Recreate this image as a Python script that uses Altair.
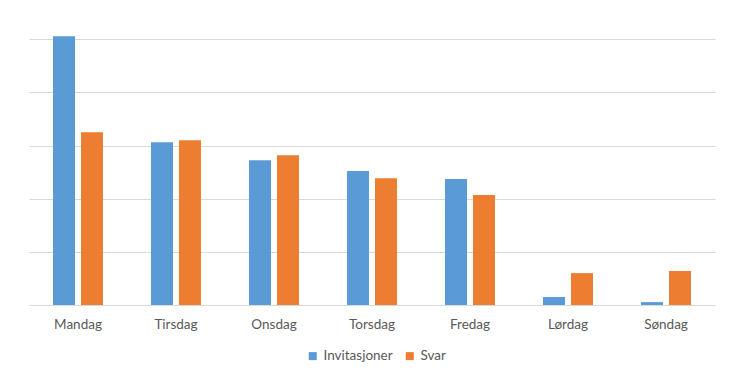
import altair as alt
import pandas as pd

days = ["Mandag", "Tirsdag", "Onsdag", "Torsdag", "Fredag", "Lørdag", "Søndag"]
invitasjoner = [101.2, 61.3, 54.5, 50.4, 47.4, 3.0, 1.1]
svar = [65.0, 62.0, 56.4, 47.7, 41.4, 12.0, 12.8]
series = ["Invitasjoner", "Svar"]
colors = ["#5B9BD5", "#ED7D31"]

rows = []
for d, a, b in zip(days, invitasjoner, svar):
    rows.append({"dag": d, "serie": series[0], "verdi": a})
    rows.append({"dag": d, "serie": series[1], "verdi": b})
df = pd.DataFrame(rows)

FONT = "Lato"

chart = alt.Chart(df).mark_bar().encode(
    x=alt.X("dag:N", sort=days, title=None,
            scale=alt.Scale(paddingInner=0.49, paddingOuter=0.245),
            axis=alt.Axis(labelAngle=0, domain=False, ticks=False, labelPadding=12,
                          labelFontSize=13.5, labelColor="#595959", labelFont=FONT)),
    xOffset=alt.XOffset("serie:N", sort=series,
                        scale=alt.Scale(paddingInner=0.214, paddingOuter=0)),
    y=alt.Y("verdi:Q", title=None,
            scale=alt.Scale(domain=[0, 102], nice=False),
            axis=alt.Axis(values=[0, 20, 40, 60, 80, 100], labels=False, ticks=False,
                          domain=False, gridColor="#D9D9D9", gridWidth=1)),
    color=alt.Color("serie:N", sort=series, title=None,
                    scale=alt.Scale(domain=series, range=colors),
                    legend=alt.Legend(orient="none", direction="horizontal",
                                      legendX=277, legendY=315,
                                      symbolType="square", symbolSize=64,
                                      symbolStrokeWidth=0,
                                      labelFontSize=13.5, labelColor="#595959",
                                      labelFont=FONT, labelOffset=4,
                                      columnPadding=10)),
).properties(
    width=686, height=271, background="white",
    padding={"left": 21, "top": 26, "right": 10, "bottom": 10},
).configure_view(stroke=None)

chart.save("out.html", embed_options={"renderer": "svg", "actions": False})
